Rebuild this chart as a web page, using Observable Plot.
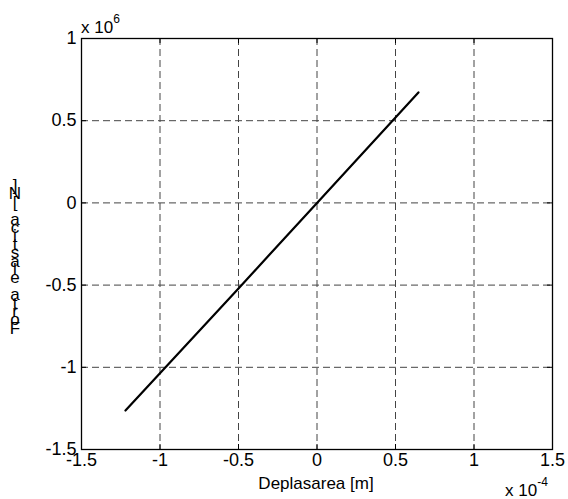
<!DOCTYPE html>
<html>
<head>
<meta charset="utf-8">
<script src="https://cdn.jsdelivr.net/npm/d3@7"></script>
<script src="https://cdn.jsdelivr.net/npm/@observablehq/plot@0.6"></script>
<style>
  html, body { margin: 0; padding: 0; background: #fff; }
  svg { display: block; }
</style>
</head>
<body>
<div id="chart"></div>
<script>
// Data (x in units of 1e-4 m, y in units of 1e6 N)
const xTicks = [-1.5, -1, -0.5, 0, 0.5, 1, 1.5];
const yTicks = [-1.5, -1, -0.5, 0, 0.5, 1];
const displacement = [-1.22, -0.5, 0, 0.5, 0.646];
const force = [-1.263, -0.52, 0, 0.52, 0.672];
const xLabel = "Deplasarea [m]";
const yLabel = "Forta elastica [N]";
const xExp = "-4";
const yExp = "6";

const W = 568, H = 499;
const mL = 81, mR = 16, mT = 38, mB = 50;
const innerH = H - mT - mB;
const font = "Liberation Sans, Arial, Helvetica, sans-serif";
const fs = 18;

const data = displacement.map((x, i) => ({x, y: force[i]}));

const plot = Plot.plot({
  width: W, height: H,
  marginLeft: mL, marginRight: mR, marginTop: mT, marginBottom: mB,
  style: {fontFamily: font, fontSize: fs + "px", color: "#000", background: "#fff"},
  x: {domain: [-1.5, 1.5]},
  y: {domain: [-1.5, 1]},
  marks: [
    Plot.gridX(xTicks, {stroke: "#444", strokeOpacity: 1, strokeDasharray: "7,4"}),
    Plot.gridY(yTicks, {stroke: "#444", strokeOpacity: 1, strokeDasharray: "7,4"}),
    // inward ticks
    Plot.ruleX(xTicks, {x: d => d, insetTop: innerH - 5, stroke: "#000"}),
    Plot.ruleX(xTicks, {x: d => d, insetBottom: innerH - 5, stroke: "#000"}),
    Plot.ruleY(yTicks, {y: d => d, insetLeft: 0, insetRight: W - mL - mR - 5, stroke: "#000"}),
    Plot.ruleY(yTicks, {y: d => d, insetLeft: W - mL - mR - 5, stroke: "#000"}),
    Plot.axisX(xTicks, {tickSize: 0, tickPadding: 4, tickFormat: d => String(d), label: null, fontSize: fs}),
    Plot.axisY(yTicks, {tickSize: 0, tickPadding: 5, tickFormat: d => String(d), label: null, fontSize: fs}),
    Plot.line(data, {x: "x", y: "y", stroke: "#000", strokeWidth: 2.2}),
    Plot.frame({stroke: "#000", strokeWidth: 1.3})
  ]
});

document.getElementById("chart").appendChild(plot);

const svg = d3.select(plot);
const g = svg.append("g").attr("font-family", font).attr("fill", "#000");

// x-axis label
g.append("text").attr("x", 316).attr("y", 489).attr("text-anchor", "middle")
  .attr("font-size", fs - 1).text(xLabel);

// x multiplier
const tx = g.append("text").attr("x", 505).attr("y", 496).attr("text-anchor", "start").attr("font-size", fs - 1);
tx.append("tspan").text("x 10");
tx.append("tspan").attr("font-size", 12).attr("dy", -10).text(xExp);

// y multiplier
const ty = g.append("text").attr("x", 81).attr("y", 33).attr("text-anchor", "start").attr("font-size", fs - 1);
ty.append("tspan").text("x 10");
ty.append("tspan").attr("font-size", 12).attr("dy", -10).text(yExp);

// y-axis label: glyphs stacked vertically, reading bottom to top
const chars = Array.from(yLabel).reverse();
const step = 8.4;
chars.forEach((c, i) => {
  if (c === " ") return;
  g.append("text").attr("x", 15).attr("y", 191 + i * step)
    .attr("text-anchor", "middle").attr("font-size", fs - 1).text(c);
});
</script>
</body>
</html>
